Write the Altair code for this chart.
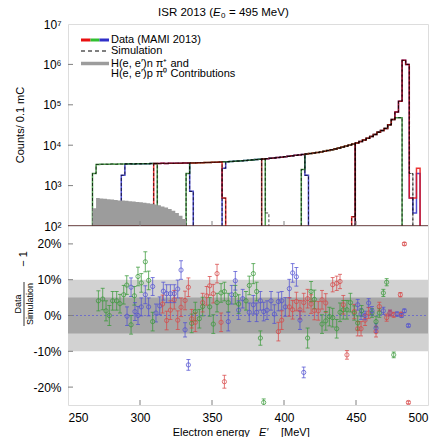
import altair as alt
import pandas as pd

# ---------------- data ----------------
BIN0 = 267.0
BW = 2.5
FLOOR = 100
# common spectrum shape (counts per 2.5 MeV bin, left edges 267, 269.5, ...)
env_counts = [3300, 3350, 3380, 3400, 3380, 3420, 3400, 3430, 3410, 3440,
              3450, 3430, 3470, 3460, 3490, 3480, 3510, 3500, 3530, 3550,
              3540, 3570, 3560, 3600, 3590, 3620, 3610, 3640, 3650, 3680,
              3700, 3720, 3750, 3780, 3800, 3830, 3870, 3900, 3950, 4000,
              4050, 4100, 4180, 4250, 4330, 4400, 4480, 4550, 4650, 4750,
              4850, 4950, 5050, 5180, 5300, 5450, 5600, 5750, 5900, 6050,
              6200, 6400, 6600, 6800, 7050, 7350, 7700, 8100, 8500, 9000,
              9500, 10100, 10700, 11400, 12300, 13400, 14800, 16500, 18500, 21000,
              23000, 26000, 32000, 43000, 66000, 123000, 1260000, 1000000]

# spectrometer settings (listed in drawing order, last on top)
set_color = ["blue", "blue", "green", "green", "red", "blue", "green", "red", "darkred"]
set_lo = [287, 357, 267, 332, 309.5, 449.5, 412, 447, 384.5]
set_hi = [337, 417, 312, 387, 359.5, 494.5, 482, 494.5, 449.5]
set_head = [[1800], [2700], [2000], [2000], [], [], [2500], [170], []]
set_tail = [[720], [1800], [], [], [490], [490, 210, 2000], [48000, 48000], [490, 490, 2700], []]
sim_hi = [337, 417, 312, 389.5, 359.5, 489.5, 482, 489.5, 449.5]
sim_tail = [[720], [1800], [], [210], [490], [2000], [48000, 48000], [2000], []]

# pion contributions (left edges 267 ... 329.5, end 332)
contrib = [275, 490, 480, 470, 460, 450, 440, 430, 425, 420, 410, 405, 395,
           385, 375, 367, 355, 340, 325, 305, 285, 265, 240, 210, 180, 150]
contrib_end = 332

# residuals (Data/Simulation - 1) in percent
res_E = [271.1, 274.1, 276.4, 278.7, 281.0, 283.8, 286.1, 288.7, 291.0, 290.8,
         293.8, 293.8, 296.1, 296.5, 298.6, 298.6, 300.9, 300.9, 303.7, 303.7,
         306.0, 306.0, 308.8, 308.8, 311.1, 313.7, 315.7, 316.2, 318.5, 318.5,
         321.1, 321.1, 323.8, 323.8, 326.2, 326.2, 328.5, 328.5, 331.3, 331.3,
         333.6, 333.6, 335.9, 335.9, 338.4, 338.4, 341.2, 343.5, 343.5, 346.3,
         348.4, 348.4, 350.9, 350.9, 353.5, 353.5, 356.3, 356.3, 358.6, 358.6,
         361.3, 361.3, 363.7, 366.2, 366.2, 368.5, 368.5,
         371.3, 373.6, 375.9, 375.9, 378.7, 378.7, 381.0, 381.0, 383.6, 383.6,
         385.9, 385.9, 388.2, 391.0, 393.3, 396.1, 396.1, 398.4, 398.4, 400.9,
         403.7, 403.7, 406.0, 406.0, 408.6, 408.6, 411.1, 411.1, 413.7, 413.7,
         416.4, 416.4, 418.8, 418.8, 421.1, 421.1, 423.8, 426.4, 426.4, 429.0,
         429.0, 431.5, 433.8, 433.8, 436.6, 436.6, 438.9, 438.9, 441.2, 441.2,
         443.7, 443.7, 446.1, 448.8, 448.8, 451.2, 451.2, 451.2, 453.5, 453.5,
         453.9, 456.3, 456.3, 458.8, 458.8, 461.1, 461.1, 463.9, 463.9, 463.9,
         466.2, 466.2, 469.0, 469.0, 471.3, 471.3, 473.6, 473.6, 476.2, 476.2,
         478.5, 480.8, 481.3, 481.6, 483.6, 483.6, 486.4, 486.4]
res_val = [4.1, 4.6, 1.3, 0.0, 4.1, 4.1, 3.3, 5.8, -0.2, 8.5,
           7.9, -2.6, 5.5, 1.1, 10.9, 0.0, 9.1, 2.4, 15.0, 5.8,
           9.8, 2.4, 8.1, -1.7, 0.7, 2.7, 3.2, 6.8, -1.4, 6.1,
           1.5, 6.1, 4.4, 6.1, 7.4, -1.3, 12.7, 2.3, -4.0, 4.2,
           7.9, -13.8, -2.2, -0.9, 1.1, -1.9, -0.9, 3.6, 2.5, 5.5,
           8.3, 2.4, -2.4, 6.1, 11.7, 3.6, 6.3, -1.9, -18.5, 6.7,
           3.6, -1.7, 5.8, 5.8, 9.7, 1.5, 3.2,
           4.7, 4.1, 0.9, 8.4, 3.0, 11.7, 6.7, 0.9, -6.3, 4.1,
           -24.3, 1.1, 1.5, 4.1, 0.4, -4.5, 3.9, -1.3, 4.1, 2.4,
           2.4, 7.5, 11.9, 1.6, 10.8, 3.9, -1.3, 1.6, -15.9, 3.6,
           -6.3, 4.7, 6.7, 3.2, 1.4, 4.5, 1.3, -2.4, 4.4, -1.5,
           3.5, -0.3, 8.6, -0.6, 9.0, -3.7, 9.5, 0.9, 1.6, 3.0,
           -11.0, 1.6, 3.6, 1.1, 0.7, -3.7, -2.1, 3.0, -3.7, 0.4,
           1.3, -1.3, 0.0, 0.7, 3.5, 0.7, 1.3, -4.5, -3.5, -1.7,
           2.5, 0.7, 1.3, 6.3, -0.6, 9.3, 0.7, 0.7, 0.2, -11.0,
           0.4, 5.8, 0.4, 0.0, 1.3, 20.0, -2.8, -24.3]
res_err = [2.8, 3.0, 2.8, 2.8, 2.6, 2.6, 2.6, 2.6, 2.6, 2.6,
           2.6, 2.6, 2.6, 2.5, 2.6, 2.5, 2.6, 2.5, 2.8, 2.5,
           2.6, 2.5, 2.5, 2.6, 2.5, 2.5, 2.5, 2.5, 2.6, 2.5,
           2.6, 2.5, 2.6, 2.5, 2.5, 2.6, 2.6, 2.6, 2.0, 2.6,
           2.6, 1.5, 2.6, 2.6, 2.6, 2.6, 2.6, 2.6, 2.6, 2.6,
           2.6, 2.6, 2.6, 2.6, 2.6, 2.6, 2.6, 2.6, 1.8, 2.6,
           2.6, 2.6, 2.6, 2.6, 2.6, 2.6, 2.6,
           2.6, 2.6, 2.6, 2.6, 2.6, 2.8, 2.6, 2.6, 2.0, 2.6,
           1.0, 2.6, 2.6, 2.6, 2.6, 2.6, 2.6, 2.6, 2.6, 2.6,
           2.6, 2.6, 2.6, 2.6, 2.6, 2.6, 2.6, 2.6, 1.5, 2.6,
           2.8, 2.6, 2.8, 2.6, 2.6, 2.6, 2.6, 2.6, 2.6, 2.6,
           2.6, 2.6, 2.0, 2.6, 2.0, 2.6, 2.0, 2.6, 2.6, 2.6,
           1.2, 2.6, 2.6, 2.0, 2.0, 2.0, 2.0, 1.5, 2.0, 1.5,
           1.5, 1.5, 1.2, 1.5, 1.2, 1.2, 1.2, 1.5, 1.2, 1.5,
           1.2, 1.2, 1.0, 1.0, 1.0, 1.0, 0.8, 0.8, 0.7, 0.8,
           0.6, 0.6, 0.5, 0.5, 0.5, 0.4, 0.4, 0.4]
res_col = ["g", "g", "g", "g", "g", "g", "g", "g", "b", "g",
           "b", "g", "g", "b", "g", "b", "g", "b", "g", "b",
           "g", "b", "b", "g", "b", "b", "r", "b", "r", "b",
           "r", "b", "r", "b", "b", "r", "b", "r", "b", "r",
           "r", "b", "g", "r", "g", "r", "g", "r", "g", "r",
           "r", "g", "g", "r", "r", "g", "g", "r", "r", "g",
           "g", "b", "b", "g", "b", "b", "g",
           "b", "g", "b", "g", "b", "g", "g", "b", "g", "b",
           "g", "b", "b", "b", "b", "r", "b", "r", "b", "b",
           "r", "b", "b", "r", "b", "r", "b", "r", "b", "r",
           "g", "r", "g", "r", "r", "g", "r", "g", "r", "g",
           "r", "g", "r", "g", "r", "g", "r", "g", "g", "r",
           "r", "g", "g", "r", "g", "r", "g", "b", "r", "b",
           "g", "r", "b", "r", "b", "g", "b", "r", "b", "g",
           "r", "g", "b", "g", "r", "g", "b", "r", "r", "g",
           "b", "r", "r", "b", "b", "r", "b", "r"]

band_lo = [-10, -5]
band_hi = [10, 5]
band_col = ["#d2d2d2", "#a6a6a6"]

x_ticks = [250, 300, 350, 400, 450, 500]
y1_ticks = [1e2, 1e3, 1e4, 1e5, 1e6, 1e7]
y2_ticks = [-20, -10, 0, 10, 20]

line_hex = {"green": "#2f8a2f", "blue": "#3030c8", "red": "#e81010", "darkred": "#8b1010"}
res_hex = {"r": "#d84848", "g": "#3a9a3a", "b": "#5252d2"}

# ---------------- build tables ----------------
def build(lo, hi, head, tail):
    k0 = round((lo - BIN0) / BW)
    k1 = round((hi - BIN0) / BW)
    vals = [env_counts[k] if k < len(env_counts) else None for k in range(k0, k1)]
    for i, v in enumerate(head):
        vals[i] = v
    for i, v in enumerate(tail):
        vals[len(vals) - len(tail) + i] = v
    pts = [(lo, FLOOR)] + [(BIN0 + BW * k, v) for k, v in zip(range(k0, k1), vals)] + [(hi, FLOOR)]
    return pts

data_rows, sim_rows = [], []
for s in range(len(set_lo)):
    for i, (e, v) in enumerate(build(set_lo[s], set_hi[s], set_head[s], set_tail[s])):
        data_rows.append({"sid": s, "i": i, "E": e, "v": v, "col": line_hex[set_color[s]]})
    for i, (e, v) in enumerate(build(set_lo[s], sim_hi[s], set_head[s], sim_tail[s])):
        sim_rows.append({"sid": s, "i": i, "E": e, "v": v})
df_data = pd.DataFrame(data_rows)
df_sim = pd.DataFrame(sim_rows)

df_contrib = pd.DataFrame({
    "E": [BIN0 + BW * k for k in range(len(contrib))] + [contrib_end],
    "v": contrib + [contrib[-1]],
    "base": [FLOOR] * (len(contrib) + 1),
})

df_res = pd.DataFrame({"E": res_E, "val": res_val, "err": res_err,
                       "c": [res_hex[c] for c in res_col]})
df_res["lo"] = df_res["val"] - df_res["err"]
df_res["hi"] = df_res["val"] + df_res["err"]

df_bands = pd.DataFrame({"lo": band_lo, "hi": band_hi, "c": band_col})

# ---------------- chart ----------------
W, H1, H2 = 360, 202, 179
FONT = "Liberation Sans"
xs1 = alt.Scale(domain=[250, 500], nice=False, zero=False)
ys1 = alt.Scale(type="log", domain=[1e2, 1e7], nice=False)
xs2 = alt.Scale(domain=[250, 500], nice=False, zero=False)
ys2 = alt.Scale(domain=[-25, 25], nice=False, zero=False)

ax_x1 = alt.Axis(labels=False, ticks=False, domain=False, grid=False, title=None)
ax_y1 = alt.Axis(values=y1_ticks, ticks=False, domain=False, grid=False, title=None,
                 labelExpr="'10' + ['⁰','¹','²','³','⁴','⁵','⁶','⁷'][round(log(datum.value)/LN10)]",
                 labelPadding=7, labelFontSize=12, labelFont=FONT, labelColor="black")
ax_x2 = alt.Axis(values=x_ticks, ticks=False, domain=False, grid=False, title=None,
                 labelPadding=7, labelFontSize=12, labelFont=FONT, labelColor="black")
ax_y2 = alt.Axis(values=y2_ticks, labelExpr="datum.value + '%'", ticks=False, domain=False,
                 grid=False, title=None, labelPadding=7, labelFontSize=12, labelFont=FONT,
                 labelColor="black")


def X1(f="E"):
    return alt.X(f"{f}:Q", scale=xs1, axis=ax_x1)


def Y1(f="v"):
    return alt.Y(f"{f}:Q", scale=ys1, axis=ax_y1)


def X2(f="E"):
    return alt.X(f"{f}:Q", scale=xs2, axis=ax_x2)


def Y2(f):
    return alt.Y(f"{f}:Q", scale=ys2, axis=ax_y2)


def label(text, x, y, size=11, **kw):
    return alt.Chart(pd.DataFrame({"t": [text]})).mark_text(
        fontSize=size, font=FONT, color="black", baseline="middle", **kw
    ).encode(x=alt.value(x), y=alt.value(y), text="t:N")


def seg(x1, x2, y, color, width, dash=None):
    kw = dict(color=color, strokeWidth=width)
    if dash is not None:
        kw["strokeDash"] = dash
    return alt.Chart(pd.DataFrame({"a": [0]})).mark_rule(**kw).encode(
        x=alt.value(x1), x2=alt.value(x2), y=alt.value(y))


lines = alt.Chart(df_data).mark_line(
    interpolate="step-after", strokeWidth=1.5, clip=True, opacity=0.85
).encode(
    x=X1(), y=Y1(),
    color=alt.Color("col:N", scale=None),
    detail="sid:N",
    order="i:Q",
)

sims = alt.Chart(df_sim).mark_line(
    interpolate="step-after", strokeWidth=1, clip=True, color="black",
    strokeDash=[3, 2], opacity=0.7
).encode(x=X1(), y=Y1(), detail="sid:N", order="i:Q")

area = alt.Chart(df_contrib).mark_area(
    interpolate="step-after", color="#9c9c9c", clip=True
).encode(x=X1(), y=Y1(), y2="base:Q")

baseline = alt.Chart(pd.DataFrame({"v": [FLOOR]})).mark_rule(
    color="#5a2a2a", strokeWidth=1.5
).encode(y=Y1(), x=alt.value(0), x2=alt.value(W))

xt1 = alt.Chart(pd.DataFrame({"E": x_ticks[1:-1]})).mark_rule(color="#808080").encode(
    x=X1(), y=alt.value(H1), y2=alt.value(H1 - 5))
yt1 = alt.Chart(pd.DataFrame({"v": y1_ticks[1:-1]})).mark_rule(color="#808080").encode(
    y=Y1(), x=alt.value(0), x2=alt.value(5))

anchor = alt.Chart(pd.DataFrame({"a": [0]})).mark_rule(opacity=0, strokeWidth=0.01).encode(
    x=alt.value(-67), x2=alt.value(-67), y=alt.value(-23), y2=alt.value(-22))

title_layers = [
    label("ISR 2013 (", 145, -11, 11.5, align="right"),
    label("E", 145, -11, 11.5, align="left", fontStyle="italic"),
    label("0", 153, -8, 8, align="left"),
    label("= 495 MeV)", 161, -11, 11.5, align="left"),
    label("Counts/ 0.1 mC", -47, H1 / 2, 11, align="center", angle=270),
]

legend_layers = [
    seg(13, 22.5, 16, "#e81010", 3),
    seg(22.5, 31.5, 16, "#30c030", 3),
    seg(31.5, 41, 16, "#3030c8", 3),
    seg(13, 41, 27, "black", 1, [4, 3]),
    seg(13, 41, 39.5, "#9c9c9c", 3.5),
    label("Data (MAMI 2013)", 43, 16, 11, align="left"),
    label("Simulation", 43, 27, 11, align="left"),
    label("H(e, e′)n π⁺ and", 43, 39.5, 11, align="left"),
    label("H(e, e′)p π⁰ Contributions", 43, 50, 11, align="left"),
]

top = alt.layer(lines, sims, area, baseline, xt1, yt1, anchor,
                *title_layers, *legend_layers).properties(width=W, height=H1)

# bottom panel
bands = alt.Chart(df_bands).mark_rect().encode(
    x=alt.value(0), x2=alt.value(W), y=Y2("lo"), y2="hi:Q",
    color=alt.Color("c:N", scale=None),
)

zero = alt.Chart(pd.DataFrame({"z": [0]})).mark_rule(
    color="#7070c8", strokeDash=[2, 2], strokeWidth=1
).encode(y=Y2("z"), x=alt.value(0), x2=alt.value(W))

ebar = alt.Chart(df_res).mark_rule(strokeWidth=1, opacity=0.75, clip=True).encode(
    x=X2(), y=Y2("lo"), y2="hi:Q", color=alt.Color("c:N", scale=None))
cap_lo = alt.Chart(df_res).mark_tick(orient="horizontal", size=4, thickness=1,
                                     opacity=0.75, clip=True).encode(
    x=X2(), y=Y2("lo"), color=alt.Color("c:N", scale=None))
cap_hi = alt.Chart(df_res).mark_tick(orient="horizontal", size=4, thickness=1,
                                     opacity=0.75, clip=True).encode(
    x=X2(), y=Y2("hi"), color=alt.Color("c:N", scale=None))
pts = alt.Chart(df_res).mark_point(shape="circle", filled=False, size=18,
                                   strokeWidth=1, opacity=0.75, clip=True).encode(
    x=X2(), y=Y2("val"), color=alt.Color("c:N", scale=None))

xt2 = alt.Chart(pd.DataFrame({"E": x_ticks[1:-1]})).mark_rule(color="#808080").encode(
    x=X2(), y=alt.value(H2), y2=alt.value(H2 - 5))
yt2 = alt.Chart(pd.DataFrame({"v": y2_ticks})).mark_rule(color="#808080").encode(
    y=Y2("v"), x=alt.value(0), x2=alt.value(5))

frac_bar = alt.Chart(pd.DataFrame({"a": [0]})).mark_rule(color="black", strokeWidth=0.8).encode(
    x=alt.value(-44), y=alt.value(56), y2=alt.value(100))

bottom_text = [
    label("Electron energy", 104.7, 206.5, 11, align="left"),
    label("E′", 191, 206.5, 11, align="left", fontStyle="italic"),
    label("[MeV]", 213, 206.5, 11, align="left"),
    label("Data", -50, 78, 9, align="center", angle=270),
    label("Simulation", -38, 78, 9, align="center", angle=270),
    label("− 1", -44, 33, 11, align="center", angle=270),
]

bottom = alt.layer(bands, zero, ebar, cap_lo, cap_hi, pts, xt2, yt2, frac_bar,
                   *bottom_text).properties(width=W, height=H2)

chart = alt.vconcat(top, bottom, spacing=0, bounds="flush").properties(
    padding=0
).configure_view(stroke="#8a8a8a", strokeWidth=1.5).configure(font=FONT)

chart.save("out.html", embed_options={"renderer": "svg", "actions": False})
